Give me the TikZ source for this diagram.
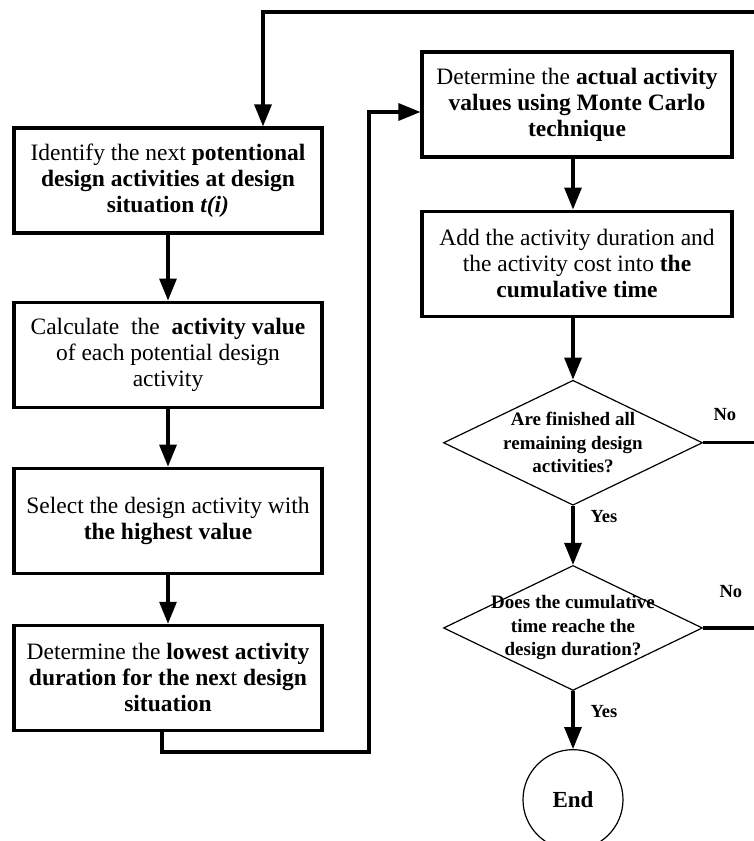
\documentclass[tikz,border=0pt]{standalone}
\usepackage{fontspec}
\setmainfont{Liberation Serif}
\usepackage{tikz}
\usetikzlibrary{positioning,arrows.meta,shapes.geometric,calc}
\tikzset{
  blk/.style={draw,line width=3.1pt,align=center,minimum width=308pt,minimum height=105pt,inner sep=2pt,font=\fontsize{23.5}{26}\selectfont},
  dec/.style={draw,diamond,line width=1.2pt,inner sep=0pt,minimum width=259pt,minimum height=125pt},
  dtxt/.style={align=center,inner sep=0pt,font=\fontsize{19}{23.5}\selectfont\bfseries},
  trm/.style={draw,circle,line width=1.2pt,minimum size=100pt,inner sep=0pt,font=\fontsize{23}{26}\selectfont\bfseries},
  lbl/.style={inner sep=2pt,font=\fontsize{18.5}{22}\selectfont\bfseries},
  arr/.style={-{Triangle[length=22pt,width=17pt]},line width=3.1pt},
  lnk/.style={line width=3.1pt},
}

\begin{document}
\begin{tikzpicture}[x=1pt,y=-1pt]
  \useasboundingbox (0,0) rectangle (753,841);
  % left column
  \node[blk] (b1) at (168,180.5) {Identify the next \textbf{potentional}\\ \textbf{design activities at design}\\ \textbf{situation} \textbf{\textit{t(i)}}};
  \node[blk,below=66pt of b1] (b2) {Calculate~ the~ \textbf{activity value}\\ of each potential design\\ activity};
  \node[blk,below=58pt of b2] (b3) {Select the design activity with\\ \textbf{the highest value}};
  \node[blk,below=49pt of b3] (b4) {Determine the \textbf{lowest activity}\\ \textbf{duration for the nex}t \textbf{design}\\ \textbf{situation}};
  % right column
  \node[blk,minimum width=310pt] (b5) at (577,104.5) {Determine the \textbf{actual activity}\\ \textbf{values using Monte Carlo}\\ \textbf{technique}};
  \node[blk,minimum width=310pt,below=51pt of b5] (b6) {Add the activity duration and\\ the activity cost into \textbf{the}\\ \textbf{cumulative time}};
  \node[dec,below=62pt of b6,xshift=-4pt] (d1) {};
  \node[dtxt] (d1t) at (d1) {Are finished all\\ remaining design\\ activities?};
  \node[dec,below=59pt of d1] (d2) {};
  \node[dtxt] (d2t) at (d2) {Does the cumulative\\ time reache the\\ design duration?};
  \node[trm,below=58pt of d2] (e) {End};
  % turning points of the loops
  \coordinate (jb) at (369,752);
  \coordinate (rt) at (790,12);

  \draw[arr] (b1) -- (b2); \draw[arr] (b2) -- (b3); \draw[arr] (b3) -- (b4);
  \draw[arr] ([xshift=-6pt]b4.south) |- (jb) |- ([yshift=-7.5pt]b5.west);
  \draw[arr] (b5.south -| d1) -- (b6.north -| d1); \draw[arr] (b6.south -| d1) -- (d1);
  \draw[arr] (d1) -- node[lbl,right,pos=0.18,xshift=14pt] (y1) {Yes} (d2);
  \draw[arr] (d2) -- node[lbl,right,pos=0.35,xshift=14pt] (y2) {Yes} (e);
  \draw[lnk] (d1.east) -- node[lbl,above,pos=0.25,yshift=19pt] (n1) {No} (d1.east -| rt);
  \draw[arr] (d2.east) -- node[lbl,above,pos=0.32,yshift=27pt] (n2) {No} (d2.east -| rt) -- (rt) -| ([xshift=95pt]b1.north);
\end{tikzpicture}
\end{document}
